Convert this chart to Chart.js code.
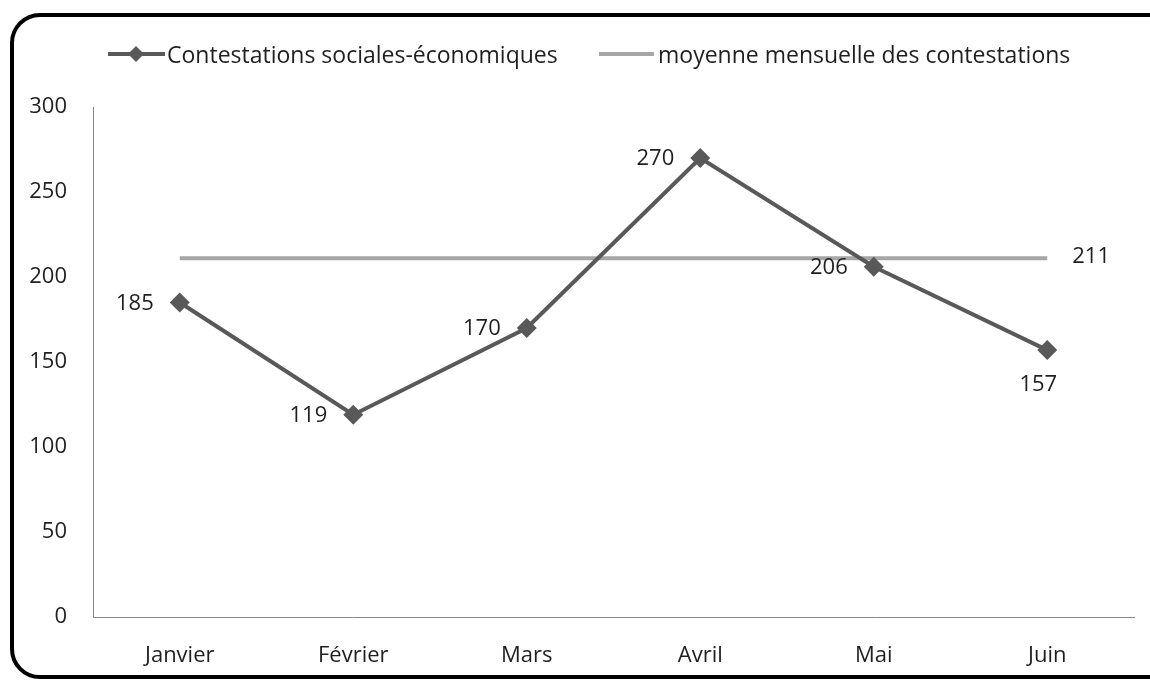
<!DOCTYPE html>
<html>
<head>
<meta charset="utf-8">
<script src="https://cdn.jsdelivr.net/npm/chart.js@4.4.1/dist/chart.umd.min.js"></script>
<style>
	html, body { margin: 0; padding: 0; background: #ffffff; }
	#contestChart { display: block; width: 1150px; height: 680px; }
</style>
</head>
<body>
<canvas id="contestChart" width="1150" height="680"></canvas>
<script>
// chart data
var months = ['Janvier', 'Février', 'Mars', 'Avril', 'Mai', 'Juin'];
var contestValues = [185, 119, 170, 270, 206, 157];
var averageValues = [211, 211, 211, 211, 211, 211];
var yTicks = [0, 50, 100, 150, 200, 250, 300];
var seriesNames = ['Contestations sociales-économiques', 'moyenne mensuelle des contestations'];

var chartFont = '"Open Sans", "DejaVu Sans", sans-serif';
var textColor = '#1f1f1f';
var seriesColor = '#595959';
var avgColor = '#a6a6a6';

// rounded frame around the whole chart (right side runs off the canvas)
var framePlugin = {
	id: 'frame',
	afterDraw: function(chart){
		var ctx = chart.ctx;
		var x = 12, y = 15, w = 1200, h = 662, r = 28;
		ctx.save();
		ctx.strokeStyle = '#000000';
		ctx.lineWidth = 4;
		ctx.beginPath();
		ctx.moveTo(x + w, y);
		ctx.lineTo(x + r, y);
		ctx.arcTo(x, y, x, y + r, r);
		ctx.lineTo(x, y + h - r);
		ctx.arcTo(x, y + h, x + r, y + h, r);
		ctx.lineTo(x + w, y + h);
		ctx.stroke();
		ctx.restore();
	}
};

// legend drawn by hand : line + diamond for first serie, plain line for second
var legendPlugin = {
	id: 'handLegend',
	afterDraw: function(chart){
		var ctx = chart.ctx;
		var ly = 54;
		ctx.save();
		ctx.lineCap = 'butt';

		ctx.strokeStyle = seriesColor;
		ctx.lineWidth = 4;
		ctx.beginPath();
		ctx.moveTo(108, ly);
		ctx.lineTo(165, ly);
		ctx.stroke();
		ctx.fillStyle = seriesColor;
		ctx.beginPath();
		ctx.moveTo(136, ly - 8);
		ctx.lineTo(144, ly);
		ctx.lineTo(136, ly + 8);
		ctx.lineTo(128, ly);
		ctx.closePath();
		ctx.fill();

		ctx.strokeStyle = avgColor;
		ctx.beginPath();
		ctx.moveTo(599, ly);
		ctx.lineTo(654, ly);
		ctx.stroke();

		ctx.fillStyle = textColor;
		ctx.font = '23px ' + chartFont;
		ctx.textBaseline = 'middle';
		ctx.textAlign = 'left';
		ctx.fillText(seriesNames[0], 167, ly + 2);
		ctx.fillText(seriesNames[1], 658, ly + 2);
		ctx.restore();
	}
};

// value labels, Excel style
var valueLabelPlugin = {
	id: 'valueLabels',
	afterDatasetsDraw: function(chart){
		var ctx = chart.ctx;
		ctx.save();
		ctx.font = '22px ' + chartFont;
		ctx.fillStyle = textColor;
		ctx.textBaseline = 'middle';

		var pts = chart.getDatasetMeta(0).data;
		for (var i = 0; i < pts.length; i++) {
			var p = pts[i];
			if (i == pts.length - 1) {
				ctx.textAlign = 'center';
				ctx.fillText(contestValues[i], p.x - 9, p.y + 35);
			} else {
				ctx.textAlign = 'right';
				ctx.fillText(contestValues[i], p.x - 26, p.y + 1);
			}
		}

		var avgPts = chart.getDatasetMeta(1).data;
		var last = avgPts[avgPts.length - 1];
		ctx.textAlign = 'left';
		ctx.fillText(averageValues[averageValues.length - 1], last.x + 25, last.y - 2);
		ctx.restore();
	}
};

var ctx = document.getElementById('contestChart');

var contestChart = new Chart(ctx, {
	type: 'line',
	data: {
		labels: months,
		datasets: [
			{
				label: seriesNames[0],
				data: contestValues,
				borderColor: seriesColor,
				backgroundColor: seriesColor,
				borderWidth: 4,
				pointStyle: 'rectRot',
				pointRadius: 10,
				pointBorderWidth: 0,
				pointBackgroundColor: seriesColor,
				tension: 0,
				order: 0
			},
			{
				label: seriesNames[1],
				data: averageValues,
				borderColor: avgColor,
				borderWidth: 4,
				pointRadius: 0,
				tension: 0,
				order: 1
			}
		]
	},
	options: {
		responsive: false,
		maintainAspectRatio: false,
		animation: false,
		devicePixelRatio: 1,
		layout: {
			padding: { top: 107, right: 16, left: 0, bottom: 0 }
		},
		plugins: {
			legend: { display: false },
			title: { display: false },
			tooltip: { enabled: false }
		},
		scales: {
			x: {
				offset: true,
				grid: { display: false, drawTicks: false },
				border: { display: true, color: '#868686', width: 1 },
				ticks: {
					color: textColor,
					font: { family: chartFont, size: 22 },
					padding: 26
				},
				afterFit: function(scale){ scale.height = 63; }
			},
			y: {
				min: 0,
				max: 300,
				grid: { display: false, drawTicks: false },
				border: { display: true, color: '#868686', width: 1 },
				afterBuildTicks: function(scale){
					scale.ticks = yTicks.map(function(v){ return { value: v }; });
				},
				ticks: {
					color: textColor,
					font: { family: chartFont, size: 22 },
					padding: 26
				},
				afterFit: function(scale){ scale.width = 93; }
			}
		}
	},
	plugins: [framePlugin, legendPlugin, valueLabelPlugin]
});
</script>
</body>
</html>
